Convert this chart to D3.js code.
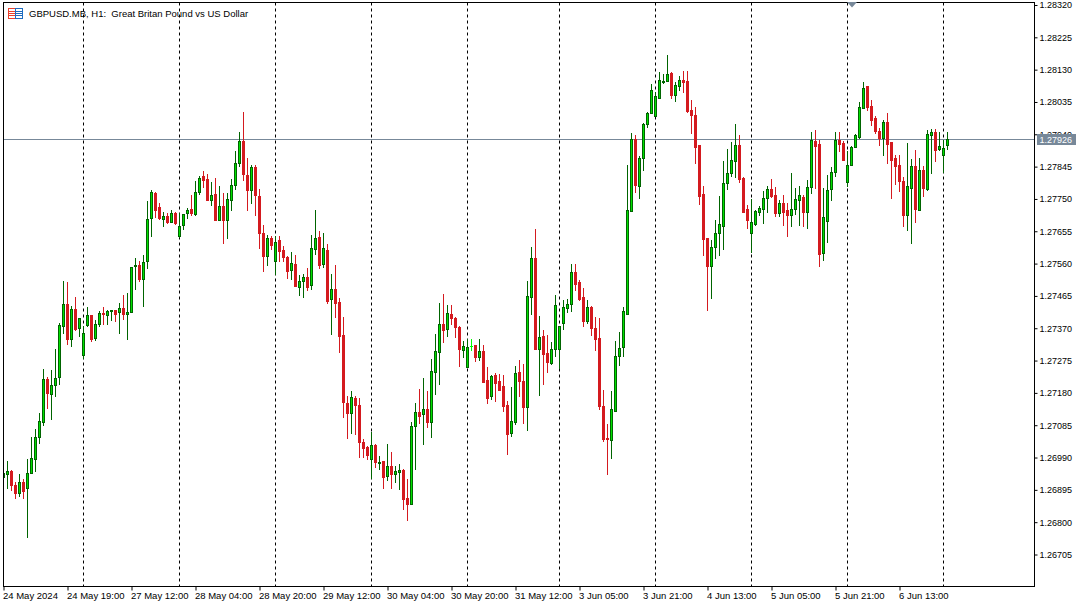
<!DOCTYPE html>
<html><head><meta charset="utf-8">
<script src="https://cdn.jsdelivr.net/npm/d3@7/dist/d3.min.js"></script>
<style>
html,body{margin:0;padding:0;background:#fff;overflow:hidden}
svg{display:block}
text{font-family:"Liberation Sans",sans-serif;font-size:9.5px;fill:#000}
.price text,.tag text{font-size:9px}
</style></head><body><div id="c"></div>
<script>
// Prices: value = PRICE_BASE + points / 100000
const PRICE_BASE = 1.26;
const opens = [932,939,949,908,883,916,898,942,983,1048,
1092,1219,1174,1203,1224,1374,1440,1336,1425,1369,
1289,1378,1407,1339,1380,1414,1407,1421,1422,1415,
1428,1409,1415,1553,1555,1514,1565,1692,1767,1726,
1691,1697,1682,1708,1639,1671,1706,1720,1705,1768,
1817,1808,1745,1764,1686,1729,1686,1745,1789,1853,
1919,1819,1774,1843,1758,1649,1580,1635,1565,1629,
1597,1578,1539,1557,1489,1506,1519,1495,1600,1638,
1556,1599,1454,1485,1447,1350,1150,1118,1164,1144,
1035,1020,983,1026,973,979,935,964,941,947,
953,870,851,1080,1123,1115,1132,1094,1241,1300,
1382,1365,1411,1400,1373,1305,1256,1317,1320,1285,
1303,1217,1168,1232,1214,1200,1144,1061,1094,1241,
1214,1138,1461,1576,1308,1347,1297,1267,1308,1308,
1383,1427,1439,1535,1505,1461,1391,1432,1370,1341,
1141,1046,1041,1126,1288,1314,1410,1712,1925,1786,
1868,1970,2000,1991,2045,2091,2095,2120,2055,2079,
2097,2094,2011,1994,1908,1764,1635,1550,1608,1647,
1670,1794,1826,1861,1908,1811,1720,1647,1676,1711,
1720,1750,1779,1761,1708,1738,1717,1700,1720,1744,
1755,1711,1785,1920,1911,1591,1685,1779,1829,1923,
1914,1797,1847,1900,1932,2017,2079,2023,1985,1949,
1929,1976,1917,1870,1847,1802,1700,1782,1844,1717,
1835,1779,1935,1944,1894,1879,1908];
const highs = [949,979,953,917,941,925,985,1050,1073,1119,
1250,1226,1247,1308,1384,1508,1505,1435,1461,1398,
1376,1432,1407,1394,1420,1432,1423,1423,1423,1444,
1467,1473,1549,1575,1566,1585,1742,1776,1768,1738,
1711,1707,1717,1709,1707,1705,1723,1761,1800,1815,
1832,1823,1797,1811,1788,1767,1766,1808,1888,1944,
2005,1869,1847,1847,1779,1672,1643,1639,1641,1641,
1609,1582,1594,1585,1526,1529,1547,1644,1717,1655,
1647,1617,1529,1555,1458,1403,1170,1185,1170,1164,
1044,1023,1064,1029,994,979,1029,1006,964,970,
956,926,1094,1150,1191,1223,1185,1279,1353,1444,
1470,1438,1438,1402,1376,1332,1337,1338,1320,1338,
1320,1256,1232,1238,1235,1232,1156,1197,1258,1276,
1264,1508,1608,1661,1405,1364,1350,1329,1467,1376,
1452,1455,1558,1558,1511,1488,1452,1435,1402,1400,
1188,1088,1185,1332,1358,1432,1847,1941,1935,1876,
1973,2005,2085,2064,2123,2117,2173,2123,2091,2111,
2126,2126,2038,2020,1908,1788,1635,1629,1688,1758,
1861,1894,1917,1970,1935,1814,1732,1747,1717,1729,
1773,1788,1808,1785,1744,1761,1738,1826,1782,1788,
1761,1805,1944,1952,1923,1782,1820,1841,1944,1944,
1920,1888,1905,1938,2032,2091,2079,2038,1991,1958,
1982,2002,1917,1879,1879,1814,1914,1867,1891,1870,
1846,1952,1955,1955,1946,1923,1944];
const lows = [923,898,894,870,876,870,754,942,948,1030,
1085,1135,1102,1170,1206,1355,1323,1317,1364,1347,
1281,1376,1332,1335,1376,1382,1382,1394,1391,1355,
1397,1338,1415,1485,1506,1433,1545,1639,1694,1690,
1670,1678,1680,1676,1637,1661,1692,1700,1700,1763,
1784,1745,1731,1686,1686,1620,1635,1717,1779,1844,
1803,1717,1738,1702,1604,1538,1555,1600,1527,1567,
1567,1517,1514,1492,1467,1461,1482,1485,1588,1545,
1549,1444,1353,1403,1300,1109,1047,1061,1059,991,
991,985,927,961,956,900,923,900,917,897,
838,806,851,956,1091,1029,1079,1050,1176,1206,
1329,1347,1382,1344,1258,1285,1256,1305,1273,1276,
1211,1150,1161,1156,1188,1126,1000,1053,1088,1170,
1091,1070,1411,1308,1173,1206,1241,1264,1288,1252,
1367,1417,1420,1482,1452,1376,1385,1350,1305,1132,
1038,941,988,1126,1261,1288,1410,1712,1770,1750,
1835,1961,2000,1991,2045,2088,2095,2044,2035,2070,
2064,2005,1941,1855,1735,1585,1423,1456,1576,1585,
1600,1779,1817,1814,1797,1711,1664,1594,1673,1700,
1679,1711,1755,1697,1697,1673,1641,1670,1703,1673,
1670,1664,1767,1782,1550,1570,1623,1744,1817,1888,
1864,1788,1847,1900,1929,2017,2011,1967,1941,1908,
1879,1855,1752,1791,1773,1670,1658,1620,1682,1717,
1758,1776,1826,1861,1891,1829,1896];
const closes = [942,949,907,883,916,889,943,987,1049,1096,
1219,1177,1202,1222,1378,1440,1336,1425,1367,1398,
1354,1407,1336,1381,1413,1409,1419,1422,1409,1428,
1409,1416,1549,1555,1514,1563,1690,1770,1715,1692,
1697,1682,1707,1679,1669,1703,1716,1708,1769,1810,
1805,1745,1760,1686,1729,1686,1749,1790,1854,1919,
1821,1774,1843,1759,1647,1580,1634,1612,1622,1595,
1577,1536,1560,1492,1507,1519,1491,1604,1634,1553,
1604,1450,1484,1442,1345,1151,1120,1166,1142,1033,
1018,997,1025,974,976,932,964,941,950,953,
867,853,1082,1123,1112,1132,1094,1244,1303,1382,
1364,1413,1400,1371,1308,1317,1313,1317,1285,1303,
1211,1164,1229,1208,1188,1141,1058,1097,1237,1214,
1138,1464,1576,1308,1344,1294,1270,1308,1438,1376,
1432,1441,1535,1500,1454,1391,1432,1370,1338,1141,
1044,1044,1132,1288,1311,1420,1716,1925,1789,1870,
1970,2000,2070,2050,2097,2096,2117,2055,2082,2097,
2091,2007,1994,1902,1758,1632,1550,1608,1647,1676,
1794,1826,1864,1908,1808,1711,1688,1682,1714,1723,
1752,1779,1758,1708,1738,1711,1700,1720,1747,1761,
1711,1785,1923,1905,1588,1694,1776,1829,1923,1911,
1864,1849,1902,1935,2020,2076,2020,1982,1949,1929,
1976,1911,1864,1844,1802,1702,1788,1844,1720,1835,
1782,1938,1944,1891,1905,1899,1926];
const priceTicks = [1.26705,1.26800,1.26895,1.26990,1.27085,1.27180,1.27275,1.27370,1.27465,1.27560,1.27655,1.27750,1.27845,1.27940,1.28035,1.28130,1.28225,1.28320];
const timeLabels = ["24 May 2024","24 May 19:00","27 May 12:00","28 May 04:00","28 May 20:00","29 May 12:00","30 May 04:00","30 May 20:00","31 May 12:00","3 Jun 05:00","3 Jun 21:00","4 Jun 13:00","5 Jun 05:00","5 Jun 21:00","6 Jun 13:00"];
const timeLabelBars = [0,16,32,48,64,80,96,112,128,144,160,176,192,208,224];
const daySeparatorBars = [20,44,68,92,116,139,163,187,211,235];
const lastPrice = 1.27926;
const chartTitle = "GBPUSD.MB, H1:  Great Britan Pound vs US Dollar";

const W=1088,H=604,L=3.5,R=1034.5,T=2.5,B=586.5;
const x=d3.scaleLinear().domain([0,236]).range([3.5,947.5]);
const y=d3.scaleLinear().domain([1.26705,1.28320]).range([554.5,5]);
const snap=v=>Math.round(v-0.5)+0.5;
const price=p=>PRICE_BASE+p/100000;
const bars=opens.map((o,i)=>({i,o:price(o),h:price(highs[i]),l:price(lows[i]),c:price(closes[i])}));

const svg=d3.select("#c").append("svg").attr("width",W).attr("height",H);
const GREEN_BODY="#00e000",GREEN_EDGE="#006400",RED="#d41a1f",DOJI="#00ff00",SLATE="#778899";

// day separators
svg.append("g").selectAll("line").data(daySeparatorBars).join("line")
 .attr("x1",d=>x(d)).attr("x2",d=>x(d)).attr("y1",T).attr("y2",B)
 .attr("stroke","#000").attr("stroke-dasharray","3,3");
// last price line
svg.append("line").attr("x1",L).attr("x2",R).attr("y1",snap(y(lastPrice))).attr("y2",snap(y(lastPrice))).attr("stroke",SLATE);

// candles
const col=d=>d.c===d.o?DOJI:(d.c>d.o?GREEN_EDGE:RED);
const g=svg.append("g").attr("shape-rendering","crispEdges").selectAll("g").data(bars).join("g");
g.append("line").attr("x1",d=>x(d.i)).attr("x2",d=>x(d.i)).attr("y1",d=>snap(y(d.h))-.5).attr("y2",d=>snap(y(d.l))+.5).attr("stroke",col);
g.filter(d=>d.c!==d.o).append("rect")
 .attr("x",d=>x(d.i)-1).attr("width",2)
 .attr("y",d=>snap(y(Math.max(d.o,d.c))))
 .attr("height",d=>Math.max(1,snap(y(Math.min(d.o,d.c)))-snap(y(Math.max(d.o,d.c)))))
 .attr("fill",d=>d.c>d.o?GREEN_BODY:RED).attr("stroke",col);
g.filter(d=>d.c===d.o).append("line")
 .attr("x1",d=>x(d.i)-1.5).attr("x2",d=>x(d.i)+1.5).attr("y1",d=>snap(y(d.c))).attr("y2",d=>snap(y(d.c))).attr("stroke",col);

// hide first bar's left overflow
svg.append("rect").attr("x",0).attr("y",0).attr("width",L).attr("height",H).attr("fill","#fff");

// axes
const yAxis=d3.axisRight(y).tickValues(priceTicks).tickFormat(d3.format(".5f")).tickSize(3).tickPadding(2);
const ya=svg.append("g").attr("class","price").attr("transform",`translate(${R},0)`).call(yAxis);
ya.select(".domain").remove();
ya.selectAll("text").attr("font-size",null).attr("font-family",null).attr("fill",null);
const xAxis=d3.axisBottom(x).tickValues(timeLabelBars).tickFormat((d,i)=>timeLabels[i]).tickSize(4).tickPadding(2);
const xa=svg.append("g").attr("transform",`translate(0,${B})`).call(xAxis);
xa.select(".domain").remove();
xa.selectAll("text").attr("text-anchor","start").attr("x",-1).attr("dx",0).attr("font-size",null).attr("font-family",null).attr("fill",null);

// frame
svg.append("rect").attr("x",L).attr("y",T).attr("width",R-L).attr("height",B-T).attr("fill","none").attr("stroke","#000");

// last price tag
const tag=svg.append("g").attr("class","tag");
tag.append("rect").attr("x",1037).attr("y",snap(y(lastPrice))-5.5).attr("width",39).attr("height",11).attr("fill",SLATE);
tag.append("text").attr("x",1039.5).attr("y",snap(y(lastPrice))+3.5).style("fill","#fff").text(d3.format(".5f")(lastPrice));

// marker
svg.append("path").attr("d","M847 2H857L852 7.5Z").attr("fill",SLATE);

// title + icon
const ic=svg.append("g").attr("shape-rendering","crispEdges").attr("fill","none");
ic.append("rect").attr("x",8.5).attr("y",8.5).attr("width",7).attr("height",10).attr("stroke","#ea3f2a");
ic.append("rect").attr("x",15.5).attr("y",8.5).attr("width",7).attr("height",10).attr("stroke","#1e6cc0");
[11.5,13.5,15.5].forEach(v=>{
 ic.append("line").attr("x1",9).attr("x2",15).attr("y1",v).attr("y2",v).attr("stroke","#ea3f2a");
 ic.append("line").attr("x1",16).attr("x2",22).attr("y1",v).attr("y2",v).attr("stroke","#1e6cc0");
});
svg.append("text").attr("x",29).attr("y",16.5).style("white-space","pre").text(chartTitle);
</script></body></html>
